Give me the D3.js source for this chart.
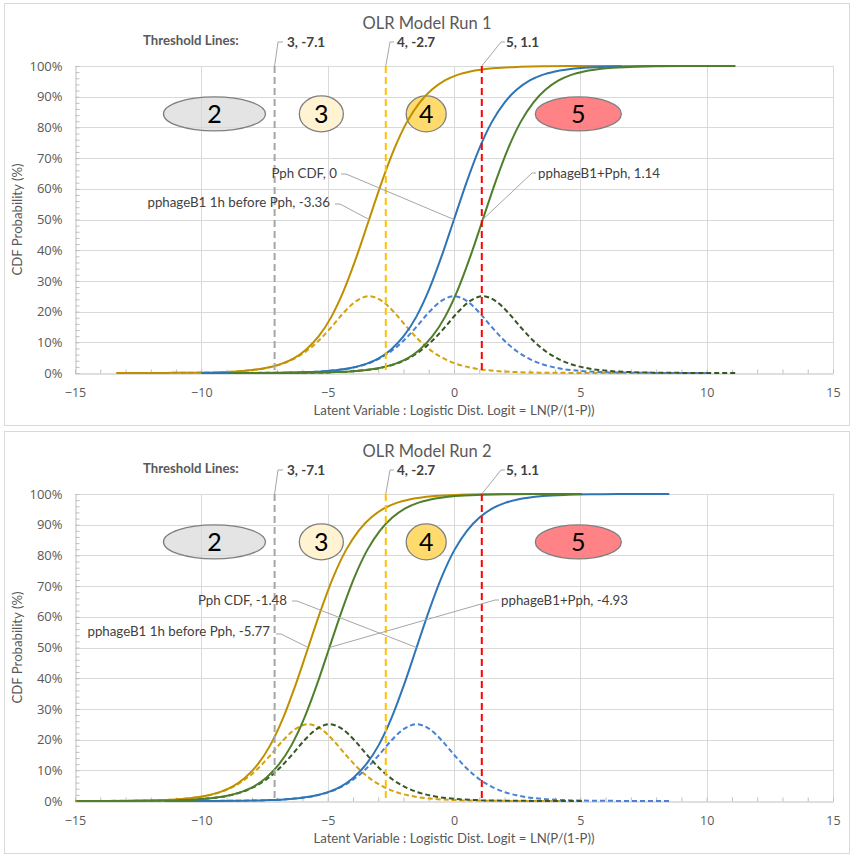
<!DOCTYPE html>
<html>
<head>
<meta charset="utf-8">
<script src="https://cdn.jsdelivr.net/npm/d3@7"></script>
<style>
  html, body { margin: 0; padding: 0; background: #fff; }
  svg { display: block; font-family: Lato, "Open Sans", sans-serif; }
</style>
</head>
<body>
<svg id="chart" width="858" height="862"></svg>
<script>
// ---------------- DATA ----------------
const runTitles = ["OLR Model Run 1", "OLR Model Run 2"];
const seriesNames = ["pphageB1 1h before Pph", "Pph CDF", "pphageB1+Pph"];
const run1Centers = [-3.36, 0, 1.14];
const run2Centers = [-5.77, -1.48, -4.93];
// logit offsets from each series centre, with CDF and PDF values
const logitOffsets = [-10, -9, -8, -7, -6, -5, -4, -3.5, -3, -2.5, -2, -1.5, -1, -0.5, 0,
                      0.5, 1, 1.5, 2, 2.5, 3, 3.5, 4, 5, 6, 7, 8, 9, 10];
const cdfValues = [0.00005, 0.00012, 0.00034, 0.0009, 0.0025, 0.0067, 0.018, 0.029, 0.047, 0.076,
                   0.119, 0.182, 0.269, 0.378, 0.5, 0.622, 0.731, 0.818, 0.881, 0.924,
                   0.953, 0.971, 0.982, 0.9933, 0.9975, 0.9991, 0.9997, 0.9999, 1.0];
const pdfValues = [0.00005, 0.00012, 0.00034, 0.0009, 0.0025, 0.0066, 0.0177, 0.0285, 0.0452, 0.0701,
                   0.105, 0.149, 0.197, 0.235, 0.25, 0.235, 0.197, 0.149, 0.105, 0.0701,
                   0.0452, 0.0285, 0.0177, 0.0066, 0.0025, 0.0009, 0.00034, 0.00012, 0.00005];
const thresholdClasses = [3, 4, 5];
const thresholdValues = [-7.1, -2.7, 1.1];
const classLabels = ["2", "3", "4", "5"];
const xTickValues = [-15, -10, -5, 0, 5, 10, 15];
const yTickValues = [0, 0.1, 0.2, 0.3, 0.4, 0.5, 0.6, 0.7, 0.8, 0.9, 1.0];

// ---------------- STYLE / LAYOUT ----------------
const cdfColors = ["#bf8f00", "#2e75b6", "#4f7f2a"];
const pdfColors = ["#d4a30a", "#4a80d6", "#375623"];
const thresholdColors = ["#a6a6a6", "#ffc000", "#ff0000"];
const classFills = ["rgba(217,217,217,0.7)", "rgba(255,242,204,0.9)", "rgba(255,217,102,0.95)", "rgba(255,124,128,0.95)"];
// ellipse centres (data coords) and radii (px)
const classShapes = [
  {cx: -9.48, cy: 0.844, rx: 51, ry: 17},
  {cx: -5.25, cy: 0.844, rx: 22, ry: 18},
  {cx: -1.1, cy: 0.844, rx: 20, ry: 18},
  {cx: 4.92, cy: 0.844, rx: 43, ry: 17}
];
// label layout per run (px relative to panel)
const labelLayouts = [
  [ // run 1: gold, blue, green
    {tx: 330, ty: 207, anchor: "end", knee: [340, 204], end: 335},
    {tx: 337, ty: 178, anchor: "end", knee: [346, 174], end: 341},
    {tx: 538, ty: 178, anchor: "start", knee: [532, 173], end: 536}
  ],
  [ // run 2
    {tx: 270, ty: 208, anchor: "end", knee: [281, 206], end: 276},
    {tx: 287, ty: 177, anchor: "end", knee: [297, 173], end: 292},
    {tx: 501, ty: 177, anchor: "start", knee: [495, 172], end: 499}
  ]
];
const thrLabelPos = [
  {tx: 287, knee: 278, end: 283},
  {tx: 397, knee: 390, end: 394},
  {tx: 506, knee: 501, end: 505}
];

const svg = d3.select("#chart");
const panelOffsets = [0, 428];
const plotLeft = 75, plotRight = 833, plotTop = 66, plotBottom = 373;
const x = d3.scaleLinear().domain([-15, 15]).range([plotLeft, plotRight]);
const y = d3.scaleLinear().domain([0, 1]).range([plotBottom, plotTop]);

const line = d3.line().x(d => x(d[0])).y(d => y(d[1])).curve(d3.curveMonotoneX);

panelOffsets.forEach((oy, r) => {
  const centers = r === 0 ? run1Centers : run2Centers;
  const g = svg.append("g").attr("transform", `translate(0,${oy})`);

  g.append("rect").attr("x", 4.5).attr("y", 3.5).attr("width", 845).attr("height", 422)
    .attr("fill", "#fff").attr("stroke", "#d9d9d9");

  const clipId = "clip" + r;
  g.append("clipPath").attr("id", clipId).append("rect")
    .attr("x", plotLeft).attr("y", plotTop - 2).attr("width", plotRight - plotLeft).attr("height", plotBottom - plotTop + 4);

  // gridlines
  g.append("g").selectAll("line").data(yTickValues.filter(v => v > 0)).join("line")
    .attr("x1", plotLeft).attr("x2", plotRight)
    .attr("y1", d => Math.round(y(d)) + 0.5).attr("y2", d => Math.round(y(d)) + 0.5)
    .attr("stroke", "#d9d9d9").attr("stroke-width", 1);
  g.append("g").selectAll("line").data(xTickValues.filter(v => v > -15)).join("line")
    .attr("x1", d => Math.round(x(d)) + 0.5).attr("x2", d => Math.round(x(d)) + 0.5)
    .attr("y1", plotTop).attr("y2", plotBottom)
    .attr("stroke", "#d9d9d9").attr("stroke-width", 1);

  // axes
  const xAxis = d3.axisBottom(x).tickValues(xTickValues).tickSize(0).tickPadding(15);
  const xa = g.append("g").attr("transform", `translate(0,${Math.round(y(0)) + 0.5})`).call(xAxis);
  xa.select(".domain").attr("stroke", "#bfbfbf");
  xa.selectAll("text").attr("fill", "#595959").attr("font-size", 12.5).attr("font-family", "'Open Sans', sans-serif");
  const xMinor = d3.axisBottom(x).tickValues(d3.range(-15, 16, 1)).tickSize(-4).tickFormat("");
  const xm = g.append("g").attr("transform", `translate(0,${Math.round(y(0)) + 0.5})`).call(xMinor);
  xm.select(".domain").remove();
  xm.selectAll("line").attr("stroke", "#bfbfbf");

  const yAxis = d3.axisLeft(y).tickValues(yTickValues).tickSize(0).tickPadding(13).tickFormat(d3.format(".0%"));
  const ya = g.append("g").attr("transform", `translate(${plotLeft + 0.5},0)`).call(yAxis);
  ya.select(".domain").attr("stroke", "#bfbfbf");
  ya.selectAll("text").attr("fill", "#595959").attr("font-size", 13).attr("font-family", "'Open Sans', sans-serif");
  const yMinor = d3.axisRight(y).tickValues(d3.range(0, 1.001, 0.02)).tickSize(4).tickFormat("");
  const ym = g.append("g").attr("transform", `translate(${plotLeft + 0.5},0)`).call(yMinor);
  ym.select(".domain").remove();
  ym.selectAll("line").attr("stroke", "#bfbfbf");

  // titles
  g.append("text").attr("x", 427).attr("y", 29).attr("text-anchor", "middle")
    .attr("font-size", 16.5).attr("fill", "#595959").text(runTitles[r]);
  g.append("text").attr("x", (plotLeft + plotRight) / 2).attr("y", 415).attr("text-anchor", "middle")
    .attr("font-size", 13.2).attr("fill", "#595959").text("Latent Variable : Logistic Dist. Logit = LN(P/(1-P))");
  g.append("text").attr("transform", `translate(22,${(plotTop + plotBottom) / 2}) rotate(-90)`)
    .attr("text-anchor", "middle").attr("font-size", 13.2).attr("fill", "#595959").text("CDF Probability (%)");

  // class ellipses
  classShapes.forEach((s, i) => {
    g.append("ellipse").attr("cx", x(s.cx)).attr("cy", y(s.cy)).attr("rx", s.rx).attr("ry", s.ry)
      .attr("fill", classFills[i]).attr("stroke", "#7f7f7f").attr("stroke-width", 1.3);
    g.append("text").attr("x", x(s.cx)).attr("y", y(s.cy) + 9).attr("text-anchor", "middle")
      .attr("font-size", 25).attr("fill", "#000").text(classLabels[i]);
  });

  // curves
  const cg = g.append("g").attr("clip-path", `url(#${clipId})`);
  centers.forEach((c, i) => {
    const pdfPts = logitOffsets.map((o, k) => [c + o, pdfValues[k]]);
    cg.append("path").attr("d", line(pdfPts)).attr("fill", "none")
      .attr("stroke", pdfColors[i]).attr("stroke-width", 2).attr("stroke-dasharray", "5,3");
  });
  centers.forEach((c, i) => {
    const cdfPts = logitOffsets.map((o, k) => [c + o, cdfValues[k]]);
    cg.append("path").attr("d", line(cdfPts)).attr("fill", "none")
      .attr("stroke", cdfColors[i]).attr("stroke-width", 2);
  });

  // threshold lines
  thresholdValues.forEach((t, i) => {
    g.append("line").attr("x1", x(t)).attr("x2", x(t)).attr("y1", y(1)).attr("y2", y(0))
      .attr("stroke", thresholdColors[i]).attr("stroke-width", 2).attr("stroke-dasharray", "7,4");
    const p = thrLabelPos[i];
    g.append("polyline").attr("points", `${x(t)},${y(1)} ${p.knee},42 ${p.end},42`)
      .attr("fill", "none").attr("stroke", "#a6a6a6").attr("stroke-width", 1);
    g.append("text").attr("x", p.tx).attr("y", 47).attr("font-size", 13.5).attr("font-weight", "bold")
      .attr("fill", "#404040").text(`${thresholdClasses[i]}, ${t}`);
  });
  g.append("text").attr("x", 143).attr("y", 45).attr("font-size", 13.2).attr("font-weight", "bold")
    .attr("fill", "#595959").text("Threshold Lines:");

  // data labels at the 50% point of each CDF
  centers.forEach((c, i) => {
    const L = labelLayouts[r][i];
    g.append("polyline").attr("points", `${x(c)},${y(0.5)} ${L.knee[0]},${L.knee[1]} ${L.end},${L.knee[1]}`)
      .attr("fill", "none").attr("stroke", "#a6a6a6").attr("stroke-width", 1);
    g.append("text").attr("x", L.tx).attr("y", L.ty).attr("text-anchor", L.anchor)
      .attr("font-size", 13.3).attr("fill", "#404040").text(`${seriesNames[i]}, ${c}`);
  });
});
</script>
</body>
</html>
